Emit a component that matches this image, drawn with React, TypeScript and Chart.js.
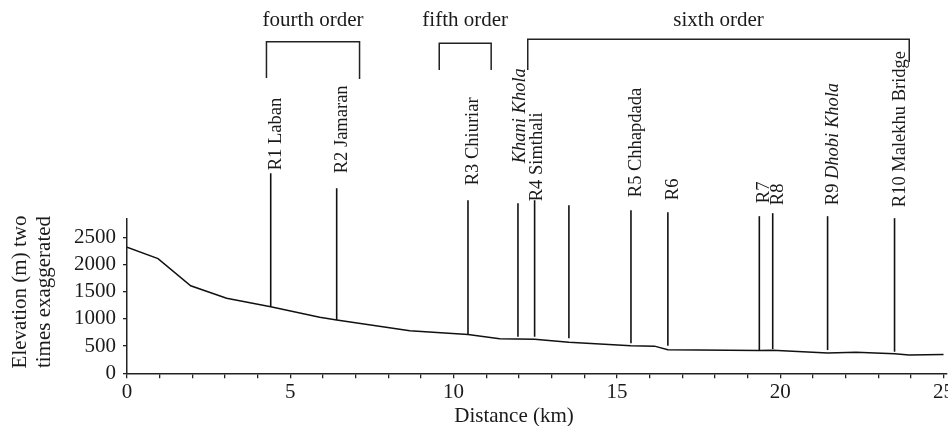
import React, { useEffect, useRef } from "react";
import { Chart, registerables } from "chart.js";

Chart.register(...registerables);

// Elevation profile (distance km, elevation m)
const profileKm = [0, 0.95, 1.95, 3.05, 4.4, 5.9, 6.42, 8.66, 10.44, 11.41, 12.48, 13.53, 15.43, 16.15, 16.56, 19.36, 19.77, 21.45, 22.32, 23.5, 23.94, 25.0];
const profileElev = [2320, 2110, 1610, 1380, 1225, 1030, 980, 785, 715, 636, 625, 570, 508, 500, 434, 418, 422, 373, 386, 360, 338, 348];

// Sampling sites (vertical markers)
const siteNames = ["R1 Laban", "R2 Jamaran", "R3 Chiuriar", "Khani Khola", "R4 Simthali", "", "R5 Chhapdada", "R6", "R7", "R8", "R9 Dhobi Khola", "R10 Malekhu Bridge"];
const siteItalicFrom = [-1, -1, -1, 0, -1, -1, -1, -1, -1, -1, 3, -1];
const siteKm = [4.4, 6.42, 10.44, 11.97, 12.48, 13.53, 15.43, 16.56, 19.36, 19.77, 21.45, 23.5];
const siteBase = [1225, 980, 717, 673, 673, 643, 555, 507, 416, 447, 428, 397];
const siteTop = [3682, 3406, 3186, 3131, 3186, 3094, 3002, 2965, 2892, 2947, 2892, 2855];
const siteLabelAt = [3737, 3682, 3461, 3866, 3167, 0, 3241, 3186, 3131, 3094, 3094, 3057];

// Stream order brackets
const orderNames = ["fourth order", "fifth order", "sixth order"];
const orderStartKm = [4.27, 9.56, 12.27];
const orderEndKm = [7.12, 11.15, 23.95];

// Axes
const xTickValues = [0, 1, 2, 3, 4, 5, 6, 7, 8, 9, 10, 11, 12, 13, 14, 15, 16, 17, 18, 19, 20, 21, 22, 23, 24, 25];
const xTickLabels = [0, 5, 10, 15, 20, 25];
const yTickValues = [0, 500, 1000, 1500, 2000, 2500];
const xTitle = "Distance (km)";
const yTitle = ["Elevation (m) two", "times exaggerated"];

const SERIF = '"Liberation Serif", "Times New Roman", serif';
const INK = "#1a1a1a";

const overlayPlugin = {
  id: "overlay",
  afterDraw(chart: any) {
    const { ctx, scales } = chart;
    const xs = scales.x;
    const ys = scales.y;
    ctx.save();
    ctx.fillStyle = INK;
    ctx.strokeStyle = "#222";
    ctx.lineWidth = 1.5;

    // brackets
    const bTop = [41.7, 43.3, 39.3];
    const bLeftBottom = [78, 70, 70];
    const bRightBottom = [79, 70, 62];
    orderNames.forEach((name, i) => {
      const x0 = xs.getPixelForValue(orderStartKm[i]);
      const x1 = xs.getPixelForValue(orderEndKm[i]);
      ctx.beginPath();
      ctx.moveTo(x0, bLeftBottom[i]);
      ctx.lineTo(x0, bTop[i]);
      ctx.lineTo(x1, bTop[i]);
      ctx.lineTo(x1, bRightBottom[i]);
      ctx.stroke();
      ctx.font = `21px ${SERIF}`;
      ctx.textAlign = "center";
      ctx.textBaseline = "alphabetic";
      ctx.fillText(name, (x0 + x1) / 2, 26);
    });

    // site labels (rotated)
    siteNames.forEach((name, i) => {
      if (!name) return;
      const off = i === 3 || i === 4 ? 7 : 10;
      const px = xs.getPixelForValue(siteKm[i]) + off;
      const py = ys.getPixelForValue(siteLabelAt[i]);
      ctx.save();
      ctx.translate(px, py);
      ctx.rotate(-Math.PI / 2);
      ctx.textAlign = "left";
      ctx.textBaseline = "alphabetic";
      const k = siteItalicFrom[i];
      const roman = k < 0 ? name : name.slice(0, k);
      const ital = k < 0 ? "" : name.slice(k);
      ctx.font = `18.5px ${SERIF}`;
      ctx.fillText(roman, 0, 0);
      const w = ctx.measureText(roman).width;
      if (ital) {
        ctx.font = `italic 18.5px ${SERIF}`;
        ctx.fillText(ital, w, 0);
      }
      ctx.restore();
    });

    // axis titles
    ctx.font = `21px ${SERIF}`;
    ctx.textAlign = "center";
    ctx.textBaseline = "alphabetic";
    ctx.fillText(xTitle, 514, 422);

    ctx.save();
    ctx.translate(26, 292);
    ctx.rotate(-Math.PI / 2);
    ctx.fillText(yTitle[0], 0, 0);
    ctx.fillText(yTitle[1], 0, 23.5);
    ctx.restore();

    ctx.restore();
  },
};

export default function App() {
  const ref = useRef<HTMLCanvasElement | null>(null);

  useEffect(() => {
    if (!ref.current) return;
    const datasets: any[] = [
      {
        data: profileKm.map((k, i) => ({ x: k, y: profileElev[i] })),
        borderColor: "#111",
        borderWidth: 1.5,
        pointRadius: 0,
        tension: 0,
        fill: false,
      },
    ];
    siteKm.forEach((k, i) => {
      datasets.push({
        data: [
          { x: k, y: siteBase[i] },
          { x: k, y: siteTop[i] },
        ],
        borderColor: "#111",
        borderWidth: 1.6,
        pointRadius: 0,
        fill: false,
        clip: false,
      });
    });

    const chart = new Chart(ref.current, {
      type: "line",
      data: { datasets },
      plugins: [overlayPlugin],
      options: {
        animation: false,
        responsive: false,
        devicePixelRatio: 1,
        layout: { padding: { left: 0, right: 1.2, top: 219, bottom: 0 } },
        plugins: { legend: { display: false }, tooltip: { enabled: false } },
        scales: {
          x: {
            type: "linear",
            min: 0,
            max: 25.1,
            afterBuildTicks: (axis: any) => {
              axis.ticks = xTickValues.map((v) => ({ value: v }));
            },
            afterFit: (scale: any) => {
              scale.height = 52.7;
              scale.paddingLeft = 0;
              scale.paddingRight = 0;
            },
            ticks: {
              autoSkip: false,
              maxRotation: 0,
              minRotation: 0,
              padding: 2,
              color: INK,
              font: { family: SERIF, size: 21 },
              callback: (v: any) => (xTickLabels.includes(Number(v)) ? String(v) : ""),
            },
            grid: { drawOnChartArea: false, drawTicks: true, tickLength: 5, color: "#222", lineWidth: 1.3 },
            border: { display: true, color: "#222", width: 1.5 },
          },
          y: {
            type: "linear",
            min: 0,
            max: 2840,
            afterBuildTicks: (axis: any) => {
              axis.ticks = yTickValues.map((v) => ({ value: v }));
            },
            afterFit: (scale: any) => {
              scale.width = 127;
              scale.paddingTop = 0;
              scale.paddingBottom = 0;
            },
            ticks: {
              autoSkip: false,
              padding: 7,
              color: INK,
              font: { family: SERIF, size: 21 },
              callback: (v: any) => String(v),
            },
            grid: { drawOnChartArea: false, drawTicks: true, tickLength: 4, color: "#222", lineWidth: 1.3 },
            border: { display: true, color: "#222", width: 1.5 },
          },
        },
      } as any,
    });
    return () => chart.destroy();
  }, []);

  return (
    <div style={{ position: "absolute", left: 0, top: 0, width: 948, height: 426, background: "#fff" }}>
      <canvas ref={ref} width={948} height={426} style={{ width: 948, height: 426, display: "block" }} />
    </div>
  );
}
